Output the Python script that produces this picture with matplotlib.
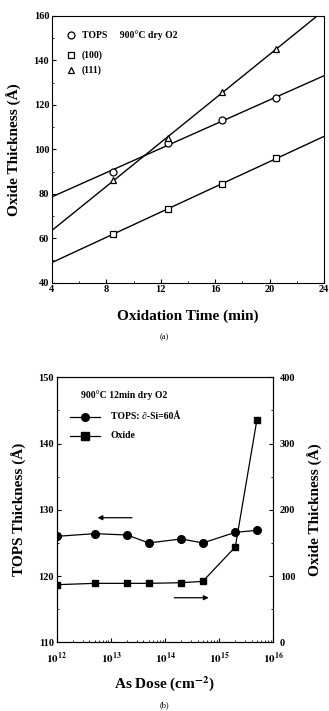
import numpy as np
import matplotlib
matplotlib.use("Agg")
import matplotlib.pyplot as plt
from matplotlib.ticker import MultipleLocator, LogLocator, NullFormatter

plt.rcParams['font.family'] = ['Liberation Serif', 'DejaVu Serif']
plt.rcParams['font.weight'] = 'bold'
plt.rcParams['mathtext.fontset'] = 'stix'

# (a) oxide thickness vs oxidation time
time_min = [8.5, 12.5, 16.5, 20.5]
tops_ox = [90, 103, 113, 123]
si100_ox = [62, 73, 84.5, 96]
si111_ox = [86, 105, 126, 145]

# (b) thickness vs As dose
dose = [1e12, 5e12, 2e13, 5e13, 2e14, 5e14, 2e15, 5e15]
tops_thk = [126.0, 126.4, 126.2, 125.0, 125.6, 125.0, 126.6, 126.9]
oxide_thk = [87, 89, 89, 89, 90, 92, 144, 335]

fig = plt.figure(figsize=(3.29, 7.11), dpi=100)

# ---------- panel (a) ----------
ax1 = fig.add_axes([0.158, 0.6024, 0.827, 0.3751])
xx = np.array([4, 24])
for y, mk in [(tops_ox, 'o'), (si100_ox, 's'), (si111_ox, '^')]:
    k, b = np.polyfit(time_min, y, 1)
    ax1.plot(xx, k * xx + b, color='black', lw=1.0)
    ax1.plot(time_min, y, mk, ms=5, mfc='white', mec='black', mew=0.9)

ax1.set_xlim(4, 24)
ax1.set_ylim(40, 160)
ax1.xaxis.set_major_locator(MultipleLocator(4))
ax1.xaxis.set_minor_locator(MultipleLocator(2))
ax1.yaxis.set_major_locator(MultipleLocator(20))
ax1.yaxis.set_minor_locator(MultipleLocator(10))
ax1.tick_params(which='both', direction='in', top=False, right=False,
                labelsize=7.5, pad=2)
ax1.tick_params(which='major', length=3)
ax1.tick_params(which='minor', length=1.5)
for lab in ax1.get_xticklabels() + ax1.get_yticklabels():
    lab.set_fontweight('bold')
ax1.set_xlabel('Oxidation Time (min)', fontsize=11, fontweight='bold', labelpad=11)
ax1.set_ylabel('Oxide Thickness (Å)', fontsize=11, fontweight='bold', labelpad=8)

leg_items = [('o', 'TOPS     900°C dry O2', 35), ('s', '(100)', 55), ('^', '(111)', 70)]
for mk, txt, ypx in leg_items:
    yf = 1 - (ypx - 16) / 266.7
    ax1.plot([0.07], [yf], mk, ms=5, mfc='white', mec='black', mew=0.9,
             transform=ax1.transAxes, clip_on=False)
    ax1.text(0.11, yf, txt, transform=ax1.transAxes, fontsize=7,
             fontweight='bold', va='center', ha='left')

fig.text(0.5, 1 - 337 / 711, '(a)', fontsize=6, fontweight='normal',
         ha='center', va='center')

# ---------- panel (b) ----------
ax2 = fig.add_axes([0.173, 0.0966, 0.657, 0.3727])
ax2.plot(dose, tops_thk, 'o-', color='black', ms=5.5, lw=0.9)
ax2.set_xscale('log')
ax2.set_xlim(1e12, 1e16)
ax2.set_ylim(110, 150)
ax2.yaxis.set_major_locator(MultipleLocator(10))
ax2.yaxis.set_minor_locator(MultipleLocator(5))
ax2.xaxis.set_minor_locator(LogLocator(base=10, subs=np.arange(2, 10), numticks=10))
ax2.xaxis.set_minor_formatter(NullFormatter())
ax2.set_xticks([1e12, 1e13, 1e14, 1e15, 1e16])
ax2.set_xticklabels([r'$\mathbf{10^{12}}$', r'$\mathbf{10^{13}}$', r'$\mathbf{10^{14}}$',
                     r'$\mathbf{10^{15}}$', r'$\mathbf{10^{16}}$'])
ax2.tick_params(which='both', direction='in', top=False, right=False, pad=2)
ax2.tick_params(axis='x', labelsize=8, pad=6)
ax2.tick_params(axis='y', labelsize=7.5)
ax2.tick_params(which='major', length=3)
ax2.tick_params(which='minor', length=1.5)
for lab in ax2.get_yticklabels():
    lab.set_fontweight('bold')
ax2.set_xlabel(r'As Dose (cm$^{\mathbf{-2}}$)', fontsize=11, fontweight='bold', labelpad=6)
ax2.set_ylabel('TOPS Thickness (Å)', fontsize=11, fontweight='bold', labelpad=8)

ax3 = ax2.twinx()
ax3.plot(dose, oxide_thk, 's-', color='black', ms=5, lw=0.9)
ax3.set_ylim(0, 400)
ax3.yaxis.set_major_locator(MultipleLocator(100))
ax3.yaxis.set_minor_locator(MultipleLocator(50))
ax3.tick_params(which='both', direction='in', labelsize=7.5, pad=5)
ax3.tick_params(which='major', length=3)
ax3.tick_params(which='minor', length=1.5)
for lab in ax3.get_yticklabels():
    lab.set_fontweight('bold')
ax3.set_ylabel('Oxide Thickness (Å)', fontsize=11, fontweight='bold', labelpad=9)

# legend of panel (b)
ax2.text(0.11, 1 - (395 - 377.3) / 265, '900°C 12min dry O2', transform=ax2.transAxes,
         fontsize=7, fontweight='bold', va='center')
for mk, txt, ypx in [('o', 'TOPS: ∂-Si=60Å', 416.7), ('s', 'Oxide', 435.7)]:
    yf = 1 - (ypx - 377.3) / 265
    ax2.plot([0.06, 0.20], [yf, yf], '-', color='black', lw=0.9,
             transform=ax2.transAxes, clip_on=False)
    ax2.plot([0.13], [yf], mk, color='black', ms=5.5,
             transform=ax2.transAxes, clip_on=False)
    ax2.text(0.25, yf, txt, transform=ax2.transAxes, fontsize=7,
             fontweight='bold', va='center')

# direction arrows
ya = 1 - (517.7 - 377.3) / 265
ax2.annotate('', xy=(0.175, ya), xytext=(0.36, ya), xycoords='axes fraction',
             arrowprops=dict(arrowstyle='-|>', color='black', lw=0.9,
                             mutation_scale=7))
yb = 1 - (597.7 - 377.3) / 265
ax2.annotate('', xy=(0.715, yb), xytext=(0.53, yb), xycoords='axes fraction',
             arrowprops=dict(arrowstyle='-|>', color='black', lw=0.9,
                             mutation_scale=7))

fig.text(0.5, 1 - 705 / 711, '(b)', fontsize=6, fontweight='normal',
         ha='center', va='center')

fig.savefig('out.png', dpi=100)
